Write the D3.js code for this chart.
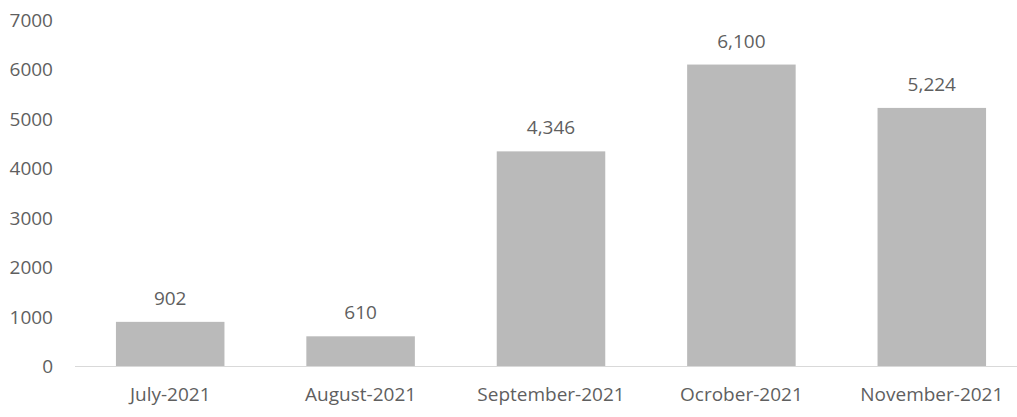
<!DOCTYPE html>
<html lang="en">
<head>
<meta charset="UTF-8">
<title>Monthly totals</title>
<script src="https://d3js.org/d3.v7.min.js"></script>
<style>
	body{margin:0;background:#fff}
	svg{display:block}
	text{font-family:"Open Sans",sans-serif;fill:#5f5f5f}
</style>
</head>
<body>
<svg id="chart" width="1017" height="417"></svg>
<script>
var months = ["July-2021", "August-2021", "September-2021", "Ocrober-2021", "November-2021"];
var totals = [902, 610, 4346, 6100, 5224];
var yTicks = [0, 1000, 2000, 3000, 4000, 5000, 6000, 7000];

var svg = d3.select("#chart");
var fontSize = 19;

var x = d3.scaleBand()
	.domain(months)
	.range([75, 1027])
	.paddingInner(0.43)
	.paddingOuter(0.215);

var y = d3.scaleLinear()
	.domain([0, 7000])
	.range([366.5, 20]);

// y tick labels (no axis line, no grid)
svg.append("g").selectAll("text")
	.data(yTicks)
	.enter().append("text")
	.attr("x", 53)
	.attr("y", d => y(d))
	.attr("dy", "0.35em")
	.attr("text-anchor", "end")
	.attr("font-size", fontSize)
	.text(d => d);

// bars
svg.append("g").selectAll("rect")
	.data(totals)
	.enter().append("rect")
	.attr("x", (d, i) => x(months[i]))
	.attr("width", x.bandwidth())
	.attr("y", d => y(d))
	.attr("height", d => y(0) - y(d))
	.attr("fill", "#bababa");

// baseline
svg.append("line")
	.attr("x1", 75).attr("x2", 1027)
	.attr("y1", y(0)).attr("y2", y(0))
	.attr("stroke", "#d9d9d9")
	.attr("stroke-width", 1);

// value labels
svg.append("g").selectAll("text")
	.data(totals)
	.enter().append("text")
	.attr("x", (d, i) => x(months[i]) + x.bandwidth() / 2)
	.attr("y", d => y(d) - 17)
	.attr("text-anchor", "middle")
	.attr("font-size", fontSize)
	.text(d => d3.format(",")(d));

// category labels
svg.append("g").selectAll("text")
	.data(months)
	.enter().append("text")
	.attr("x", d => x(d) + x.bandwidth() / 2)
	.attr("y", 401)
	.attr("text-anchor", "middle")
	.attr("font-size", fontSize)
	.text(d => d);
</script>
</body>
</html>
